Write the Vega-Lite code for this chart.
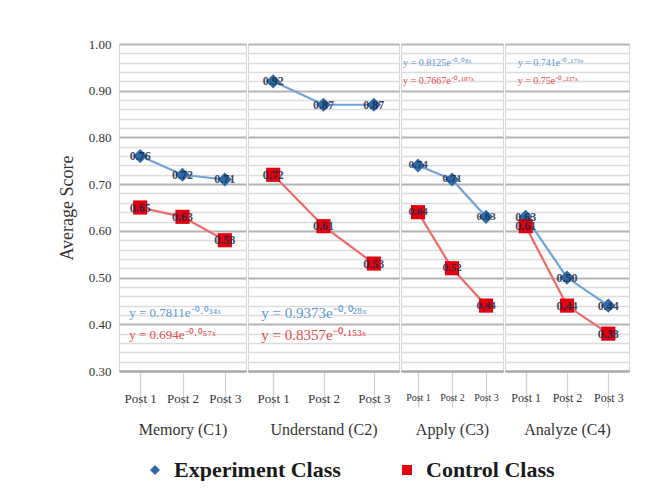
{
  "$schema": "https://vega.github.io/schema/vega-lite/v6.json",
  "padding": {"left": 57, "top": 37, "right": 0, "bottom": 0},
  "background": "white",
  "datasets": {
    "scores": [
      {"group": "Memory (C1)", "post": "Post 1", "series": "Experiment Class", "value": 0.76},
      {"group": "Memory (C1)", "post": "Post 2", "series": "Experiment Class", "value": 0.72},
      {"group": "Memory (C1)", "post": "Post 3", "series": "Experiment Class", "value": 0.71},
      {"group": "Memory (C1)", "post": "Post 1", "series": "Control Class", "value": 0.65},
      {"group": "Memory (C1)", "post": "Post 2", "series": "Control Class", "value": 0.63},
      {"group": "Memory (C1)", "post": "Post 3", "series": "Control Class", "value": 0.58},
      {"group": "Understand (C2)", "post": "Post 1", "series": "Experiment Class", "value": 0.92},
      {"group": "Understand (C2)", "post": "Post 2", "series": "Experiment Class", "value": 0.87},
      {"group": "Understand (C2)", "post": "Post 3", "series": "Experiment Class", "value": 0.87},
      {"group": "Understand (C2)", "post": "Post 1", "series": "Control Class", "value": 0.72},
      {"group": "Understand (C2)", "post": "Post 2", "series": "Control Class", "value": 0.61},
      {"group": "Understand (C2)", "post": "Post 3", "series": "Control Class", "value": 0.53},
      {"group": "Apply (C3)", "post": "Post 1", "series": "Experiment Class", "value": 0.74},
      {"group": "Apply (C3)", "post": "Post 2", "series": "Experiment Class", "value": 0.71},
      {"group": "Apply (C3)", "post": "Post 3", "series": "Experiment Class", "value": 0.63},
      {"group": "Apply (C3)", "post": "Post 1", "series": "Control Class", "value": 0.64},
      {"group": "Apply (C3)", "post": "Post 2", "series": "Control Class", "value": 0.52},
      {"group": "Apply (C3)", "post": "Post 3", "series": "Control Class", "value": 0.44},
      {"group": "Analyze (C4)", "post": "Post 1", "series": "Experiment Class", "value": 0.63},
      {"group": "Analyze (C4)", "post": "Post 2", "series": "Experiment Class", "value": 0.50},
      {"group": "Analyze (C4)", "post": "Post 3", "series": "Experiment Class", "value": 0.44},
      {"group": "Analyze (C4)", "post": "Post 1", "series": "Control Class", "value": 0.61},
      {"group": "Analyze (C4)", "post": "Post 2", "series": "Control Class", "value": 0.44},
      {"group": "Analyze (C4)", "post": "Post 3", "series": "Control Class", "value": 0.38}
    ],
    "eqs": [
      {"group": "Memory (C1)", "post": "Post 1", "series": "Experiment Class", "eq": "y = 0.7811e⁻⁰·⁰³⁴ˣ"},
      {"group": "Memory (C1)", "post": "Post 1", "series": "Control Class", "eq": "y = 0.694e⁻⁰·⁰⁵⁷ˣ"},
      {"group": "Understand (C2)", "post": "Post 1", "series": "Experiment Class", "eq": "y = 0.9373e⁻⁰·⁰²⁸ˣ"},
      {"group": "Understand (C2)", "post": "Post 1", "series": "Control Class", "eq": "y = 0.8357e⁻⁰·¹⁵³ˣ"},
      {"group": "Apply (C3)", "post": "Post 1", "series": "Experiment Class", "eq": "y = 0.8125e⁻⁰·⁰⁸ˣ"},
      {"group": "Apply (C3)", "post": "Post 1", "series": "Control Class", "eq": "y = 0.7667e⁻⁰·¹⁸⁷ˣ"},
      {"group": "Analyze (C4)", "post": "Post 1", "series": "Experiment Class", "eq": "y = 0.741e⁻⁰·¹⁷⁹ˣ"},
      {"group": "Analyze (C4)", "post": "Post 1", "series": "Control Class", "eq": "y = 0.75e⁻⁰·²³⁷ˣ"}
    ]
  },
  "spacing": 0,
  "resolve": {"scale": {"x": "independent", "y": "shared", "color": "shared", "shape": "shared"}},
  "hconcat": [
    {
      "width": 127, "height": 327,
      "encoding": {
        "x": {"field": "post", "type": "nominal", "scale": {"domain": ["Post 1", "Post 2", "Post 3"], "paddingInner": 0, "paddingOuter": 0},
          "axis": {"title": "Memory (C1)", "labelFontSize": 13}}
      },
      "layer": [
        {"data": {"name": "scores"}, "transform": [{"filter": "datum.group === 'Memory (C1)'"}],
          "mark": {"type": "line", "strokeWidth": 2.2},
          "encoding": {
            "y": {"field": "value", "type": "quantitative", "scale": {"domain": [0.3, 1.0], "zero": false, "nice": false},
              "axis": {"values": [0.3,0.32,0.34,0.36,0.38,0.4,0.42,0.44,0.46,0.48,0.5,0.52,0.54,0.56,0.58,0.6,0.62,0.64,0.66,0.68,0.7,0.72,0.74,0.76,0.78,0.8,0.82,0.84,0.86,0.88,0.9,0.92,0.94,0.96,0.98,1.0],
                "tickCount": 40,
                "labelExpr": "round(datum.value*100) % 10 === 0 ? format(datum.value, '.2f') : ''",
                "labelOverlap": false, "ticks": false, "domain": false, "labelPadding": 8,
                "title": "Average Score", "titleFontSize": 18, "titlePadding": 12,
                "labelFont": "Liberation Serif", "labelFontSize": 13, "labelColor": "#333333",
                "titleFont": "Liberation Serif", "titleFontWeight": "normal", "titleColor": "#333333",
                "gridColor": {"condition": {"test": "round(datum.value*100) % 10 === 0", "value": "#b3b3b3"}, "value": "#dcdcdc"},
                "gridWidth": {"condition": {"test": "round(datum.value*100) % 10 === 0", "value": 2}, "value": 1.4}}},
            "detail": {"field": "series", "type": "nominal"},
            "color": {"condition": {"test": "datum.series === 'Experiment Class'", "value": "#6fa3d8"}, "value": "#ee6a6a"}}},
        {"data": {"name": "scores"}, "transform": [{"filter": "datum.group === 'Memory (C1)'"}],
          "mark": {"type": "point", "filled": true, "size": 200, "opacity": 1},
          "encoding": {
            "y": {"field": "value", "type": "quantitative"},
            "color": {"field": "series", "type": "nominal", "scale": {"domain": ["Experiment Class", "Control Class"], "range": ["#2e6aa8", "#e3000f"]}, "legend": {"orient": "none", "legendX": 25, "legendY": 415, "direction": "horizontal", "title": null}},
            "shape": {"field": "series", "type": "nominal", "scale": {"domain": ["Experiment Class", "Control Class"], "range": ["diamond", "square"]}, "legend": {"orient": "none", "legendX": 25, "legendY": 415, "direction": "horizontal", "title": null}}}},
        {"data": {"name": "scores"}, "transform": [{"filter": "datum.group === 'Memory (C1)'"}],
          "mark": {"type": "text", "font": "Liberation Serif", "fontSize": 12, "fontWeight": "bold", "color": "#1b2a4a", "opacity": 0.85},
          "encoding": {"y": {"field": "value", "type": "quantitative"}, "text": {"field": "value", "type": "quantitative", "format": ".2f"}}},
        {"data": {"name": "eqs"}, "transform": [{"filter": "datum.group === 'Memory (C1)' && datum.series === 'Experiment Class'"}],
          "mark": {"type": "text", "align": "left", "dx": -11, "font": "Liberation Serif", "fontSize": 13, "color": "#5b9bd5"},
          "encoding": {"y": {"datum": 0.424, "type": "quantitative"}, "text": {"field": "eq", "type": "nominal"}}},
        {"data": {"name": "eqs"}, "transform": [{"filter": "datum.group === 'Memory (C1)' && datum.series === 'Control Class'"}],
          "mark": {"type": "text", "align": "left", "dx": -11, "font": "Liberation Serif", "fontSize": 13, "color": "#e8494f"},
          "encoding": {"y": {"datum": 0.378, "type": "quantitative"}, "text": {"field": "eq", "type": "nominal"}}}
      ]
    },
    {
      "width": 151, "height": 327,
      "encoding": {
        "x": {"field": "post", "type": "nominal", "scale": {"domain": ["Post 1", "Post 2", "Post 3"], "paddingInner": 0, "paddingOuter": 0},
          "axis": {"title": "Understand (C2)", "labelFontSize": 13}}
      },
      "layer": [
        {"data": {"name": "scores"}, "transform": [{"filter": "datum.group === 'Understand (C2)'"}],
          "mark": {"type": "line", "strokeWidth": 2.2},
          "encoding": {
            "y": {"field": "value", "type": "quantitative", "scale": {"domain": [0.3, 1.0], "zero": false, "nice": false},
              "axis": {"values": [0.3,0.32,0.34,0.36,0.38,0.4,0.42,0.44,0.46,0.48,0.5,0.52,0.54,0.56,0.58,0.6,0.62,0.64,0.66,0.68,0.7,0.72,0.74,0.76,0.78,0.8,0.82,0.84,0.86,0.88,0.9,0.92,0.94,0.96,0.98,1.0],
                "tickCount": 40, "labels": false, "ticks": false, "domain": false, "title": null,
                "gridColor": {"condition": {"test": "round(datum.value*100) % 10 === 0", "value": "#b3b3b3"}, "value": "#dcdcdc"},
                "gridWidth": {"condition": {"test": "round(datum.value*100) % 10 === 0", "value": 2}, "value": 1.4}}},
            "detail": {"field": "series", "type": "nominal"},
            "color": {"condition": {"test": "datum.series === 'Experiment Class'", "value": "#6fa3d8"}, "value": "#ee6a6a"}}},
        {"data": {"name": "scores"}, "transform": [{"filter": "datum.group === 'Understand (C2)'"}],
          "mark": {"type": "point", "filled": true, "size": 200, "opacity": 1},
          "encoding": {
            "y": {"field": "value", "type": "quantitative"},
            "color": {"field": "series", "type": "nominal", "scale": {"domain": ["Experiment Class", "Control Class"], "range": ["#2e6aa8", "#e3000f"]}, "legend": {"orient": "none", "legendX": 25, "legendY": 415, "direction": "horizontal", "title": null}},
            "shape": {"field": "series", "type": "nominal", "scale": {"domain": ["Experiment Class", "Control Class"], "range": ["diamond", "square"]}, "legend": {"orient": "none", "legendX": 25, "legendY": 415, "direction": "horizontal", "title": null}}}},
        {"data": {"name": "scores"}, "transform": [{"filter": "datum.group === 'Understand (C2)'"}],
          "mark": {"type": "text", "font": "Liberation Serif", "fontSize": 12, "fontWeight": "bold", "color": "#1b2a4a", "opacity": 0.85},
          "encoding": {"y": {"field": "value", "type": "quantitative"}, "text": {"field": "value", "type": "quantitative", "format": ".2f"}}},
        {"data": {"name": "eqs"}, "transform": [{"filter": "datum.group === 'Understand (C2)' && datum.series === 'Experiment Class'"}],
          "mark": {"type": "text", "align": "left", "dx": -12, "font": "Liberation Serif", "fontSize": 15, "color": "#5b9bd5"},
          "encoding": {"y": {"datum": 0.424, "type": "quantitative"}, "text": {"field": "eq", "type": "nominal"}}},
        {"data": {"name": "eqs"}, "transform": [{"filter": "datum.group === 'Understand (C2)' && datum.series === 'Control Class'"}],
          "mark": {"type": "text", "align": "left", "dx": -12, "font": "Liberation Serif", "fontSize": 15, "color": "#e8494f"},
          "encoding": {"y": {"datum": 0.378, "type": "quantitative"}, "text": {"field": "eq", "type": "nominal"}}}
      ]
    },
    {
      "width": 102, "height": 327,
      "encoding": {
        "x": {"field": "post", "type": "nominal", "scale": {"domain": ["Post 1", "Post 2", "Post 3"], "paddingInner": 0, "paddingOuter": 0},
          "axis": {"title": "Apply (C3)", "labelFontSize": 10}}
      },
      "layer": [
        {"data": {"name": "scores"}, "transform": [{"filter": "datum.group === 'Apply (C3)'"}],
          "mark": {"type": "line", "strokeWidth": 2.2},
          "encoding": {
            "y": {"field": "value", "type": "quantitative", "scale": {"domain": [0.3, 1.0], "zero": false, "nice": false},
              "axis": {"values": [0.3,0.32,0.34,0.36,0.38,0.4,0.42,0.44,0.46,0.48,0.5,0.52,0.54,0.56,0.58,0.6,0.62,0.64,0.66,0.68,0.7,0.72,0.74,0.76,0.78,0.8,0.82,0.84,0.86,0.88,0.9,0.92,0.94,0.96,0.98,1.0],
                "tickCount": 40, "labels": false, "ticks": false, "domain": false, "title": null,
                "gridColor": {"condition": {"test": "round(datum.value*100) % 10 === 0", "value": "#b3b3b3"}, "value": "#dcdcdc"},
                "gridWidth": {"condition": {"test": "round(datum.value*100) % 10 === 0", "value": 2}, "value": 1.4}}},
            "detail": {"field": "series", "type": "nominal"},
            "color": {"condition": {"test": "datum.series === 'Experiment Class'", "value": "#6fa3d8"}, "value": "#ee6a6a"}}},
        {"data": {"name": "scores"}, "transform": [{"filter": "datum.group === 'Apply (C3)'"}],
          "mark": {"type": "point", "filled": true, "size": 200, "opacity": 1},
          "encoding": {
            "y": {"field": "value", "type": "quantitative"},
            "color": {"field": "series", "type": "nominal", "scale": {"domain": ["Experiment Class", "Control Class"], "range": ["#2e6aa8", "#e3000f"]}, "legend": {"orient": "none", "legendX": 25, "legendY": 415, "direction": "horizontal", "title": null}},
            "shape": {"field": "series", "type": "nominal", "scale": {"domain": ["Experiment Class", "Control Class"], "range": ["diamond", "square"]}, "legend": {"orient": "none", "legendX": 25, "legendY": 415, "direction": "horizontal", "title": null}}}},
        {"data": {"name": "scores"}, "transform": [{"filter": "datum.group === 'Apply (C3)'"}],
          "mark": {"type": "text", "font": "Liberation Serif", "fontSize": 11, "fontWeight": "bold", "color": "#1b2a4a", "opacity": 0.85},
          "encoding": {"y": {"field": "value", "type": "quantitative"}, "text": {"field": "value", "type": "quantitative", "format": ".2f"}}},
        {"data": {"name": "eqs"}, "transform": [{"filter": "datum.group === 'Apply (C3)' && datum.series === 'Experiment Class'"}],
          "mark": {"type": "text", "align": "left", "dx": -15, "font": "Liberation Serif", "fontSize": 10, "color": "#5b9bd5"},
          "encoding": {"y": {"datum": 0.959, "type": "quantitative"}, "text": {"field": "eq", "type": "nominal"}}},
        {"data": {"name": "eqs"}, "transform": [{"filter": "datum.group === 'Apply (C3)' && datum.series === 'Control Class'"}],
          "mark": {"type": "text", "align": "left", "dx": -15, "font": "Liberation Serif", "fontSize": 10, "color": "#e8494f"},
          "encoding": {"y": {"datum": 0.921, "type": "quantitative"}, "text": {"field": "eq", "type": "nominal"}}}
      ]
    },
    {
      "width": 124, "height": 327,
      "encoding": {
        "x": {"field": "post", "type": "nominal", "scale": {"domain": ["Post 1", "Post 2", "Post 3"], "paddingInner": 0, "paddingOuter": 0},
          "axis": {"title": "Analyze (C4)", "labelFontSize": 12}}
      },
      "layer": [
        {"data": {"name": "scores"}, "transform": [{"filter": "datum.group === 'Analyze (C4)'"}],
          "mark": {"type": "line", "strokeWidth": 2.2},
          "encoding": {
            "y": {"field": "value", "type": "quantitative", "scale": {"domain": [0.3, 1.0], "zero": false, "nice": false},
              "axis": {"values": [0.3,0.32,0.34,0.36,0.38,0.4,0.42,0.44,0.46,0.48,0.5,0.52,0.54,0.56,0.58,0.6,0.62,0.64,0.66,0.68,0.7,0.72,0.74,0.76,0.78,0.8,0.82,0.84,0.86,0.88,0.9,0.92,0.94,0.96,0.98,1.0],
                "tickCount": 40, "labels": false, "ticks": false, "domain": false, "title": null,
                "gridColor": {"condition": {"test": "round(datum.value*100) % 10 === 0", "value": "#b3b3b3"}, "value": "#dcdcdc"},
                "gridWidth": {"condition": {"test": "round(datum.value*100) % 10 === 0", "value": 2}, "value": 1.4}}},
            "detail": {"field": "series", "type": "nominal"},
            "color": {"condition": {"test": "datum.series === 'Experiment Class'", "value": "#6fa3d8"}, "value": "#ee6a6a"}}},
        {"data": {"name": "scores"}, "transform": [{"filter": "datum.group === 'Analyze (C4)'"}],
          "mark": {"type": "point", "filled": true, "size": 200, "opacity": 1},
          "encoding": {
            "y": {"field": "value", "type": "quantitative"},
            "color": {"field": "series", "type": "nominal", "scale": {"domain": ["Experiment Class", "Control Class"], "range": ["#2e6aa8", "#e3000f"]}, "legend": {"orient": "none", "legendX": 25, "legendY": 415, "direction": "horizontal", "title": null}},
            "shape": {"field": "series", "type": "nominal", "scale": {"domain": ["Experiment Class", "Control Class"], "range": ["diamond", "square"]}, "legend": {"orient": "none", "legendX": 25, "legendY": 415, "direction": "horizontal", "title": null}}}},
        {"data": {"name": "scores"}, "transform": [{"filter": "datum.group === 'Analyze (C4)'"}],
          "mark": {"type": "text", "font": "Liberation Serif", "fontSize": 12, "fontWeight": "bold", "color": "#1b2a4a", "opacity": 0.85},
          "encoding": {"y": {"field": "value", "type": "quantitative"}, "text": {"field": "value", "type": "quantitative", "format": ".2f"}}},
        {"data": {"name": "eqs"}, "transform": [{"filter": "datum.group === 'Analyze (C4)' && datum.series === 'Experiment Class'"}],
          "mark": {"type": "text", "align": "left", "dx": -8, "font": "Liberation Serif", "fontSize": 10, "color": "#5b9bd5"},
          "encoding": {"y": {"datum": 0.959, "type": "quantitative"}, "text": {"field": "eq", "type": "nominal"}}},
        {"data": {"name": "eqs"}, "transform": [{"filter": "datum.group === 'Analyze (C4)' && datum.series === 'Control Class'"}],
          "mark": {"type": "text", "align": "left", "dx": -8, "font": "Liberation Serif", "fontSize": 10, "color": "#e8494f"},
          "encoding": {"y": {"datum": 0.921, "type": "quantitative"}, "text": {"field": "eq", "type": "nominal"}}}
      ]
    }
  ],
  "config": {
    "view": {"stroke": "#d6d6d6", "strokeWidth": 1},
    "axisX": {"labelAngle": 0, "tickBand": "extent", "tickSize": 36, "tickColor": "#d0d0d0", "tickWidth": 1.2,
      "labelPadding": -15, "labelFont": "Liberation Serif", "labelColor": "#333333",
      "titleFont": "Liberation Serif", "titleFontSize": 16, "titleFontWeight": "normal", "titleColor": "#333333", "titlePadding": 14,
      "domain": true, "domainColor": "#a6a6a6", "domainWidth": 2, "grid": false},
    "legend": {"labelFont": "Liberation Serif", "labelFontSize": 22, "labelFontWeight": "bold", "labelColor": "#1a1a1a",
      "symbolSize": 100, "columnPadding": 55, "labelOffset": 8, "labelLimit": 300}
  }
}
